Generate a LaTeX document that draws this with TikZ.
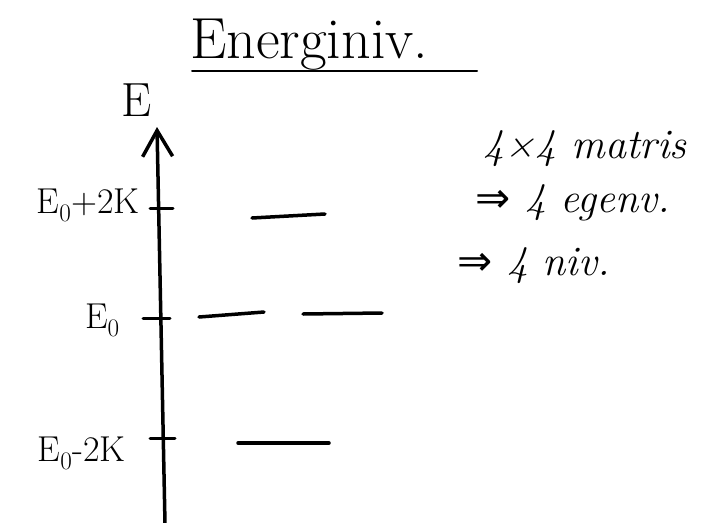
\documentclass[tikz,border=0pt]{standalone}
\usepackage{fontspec}
\newfontfamily\symfont{DejaVu Sans}
\usetikzlibrary{arrows.meta}
\begin{document}
\begin{tikzpicture}[x=1pt,y=-1pt,
  ink/.style={line width=3.5pt, line cap=round},
  levelline/.style={line width=3.5pt, line cap=round},
  tickline/.style={line width=3pt, line cap=round},
  lab/.style={font=\fontsize{36}{38}\selectfont, inner sep=0pt},
  note/.style={font=\itshape\fontsize{42}{44}\selectfont, inner sep=0pt, anchor=base west}]
\useasboundingbox (0,0) rectangle (711,522);
% title
\node[anchor=base west, inner sep=0pt, font=\fontsize{58}{60}\selectfont] (title) at (190,58) {Energiniv.};
\coordinate (ulA) at (192,71);
\coordinate (ulB) at (477,71);
\draw[line width=2pt, line cap=round] (ulA) -- (ulB);
% axis
\coordinate (axbot) at (165,524);
\coordinate (axtop) at (157,127);
\draw[ink, -{Straight Barb[length=26pt,width=30pt]}] (axbot) -- (axtop);
\node[inner sep=0pt, font=\fontsize{48}{50}\selectfont] (Elab) at (137,100) {E};
% ticks
\coordinate (t1a) at (150,208); \coordinate (t1b) at (173,208);
\coordinate (t2a) at (143,318); \coordinate (t2b) at (170,318);
\coordinate (t3a) at (150,438); \coordinate (t3b) at (175,438);
\draw[tickline] (t1a) -- (t1b);
\draw[tickline] (t2a) -- (t2b);
\draw[tickline] (t3a) -- (t3b);
% tick labels
\node[lab, anchor=base east] (lp) at (140,213) {E\textsubscript{0}+2K};
\node[lab, anchor=base east] (l0) at (120,328) {E\textsubscript{0}};
\node[lab, anchor=base east] (lm) at (126,461) {E\textsubscript{0}-2K};
% levels
\coordinate (la1) at (252,218); \coordinate (la2) at (325,214);
\coordinate (lb1) at (199,317); \coordinate (lb2) at (264,312);
\coordinate (lc1) at (303,314); \coordinate (lc2) at (382,313);
\coordinate (ld1) at (238,443); \coordinate (ld2) at (329,443);
\draw[levelline] (la1) -- (la2);
\draw[levelline] (lb1) -- (lb2);
\draw[levelline] (lc1) -- (lc2);
\draw[levelline] (ld1) -- (ld2);
% notes
\node[note] (n1) at (483,158) {4×4 matris};
\node[note] (n2) at (475,212) {{\symfont ⇒} 4 egenv.};
\node[note] (n3) at (457,275) {{\symfont ⇒} 4 niv.};
\end{tikzpicture}
\end{document}
